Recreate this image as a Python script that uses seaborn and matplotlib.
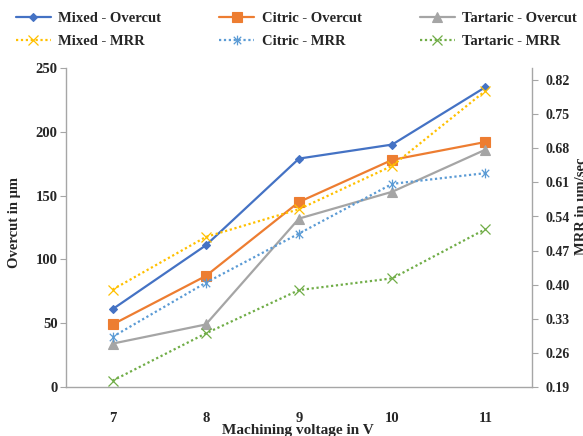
import matplotlib
matplotlib.use("Agg")
import matplotlib.pyplot as plt
from matplotlib.path import Path
import seaborn as sns
import pandas as pd

# Machining voltage (V)
voltage = [7, 8, 9, 10, 11]

# Overcut in micrometres (left axis)
mixed_overcut = [61, 111, 179, 190, 235]
citric_overcut = [49, 87, 145, 178, 192]
tartaric_overcut = [34, 49, 132, 153, 186]

# Material removal rate in um/sec (right axis)
mixed_mrr = [0.39, 0.498, 0.555, 0.644, 0.798]
citric_mrr = [0.293, 0.404, 0.505, 0.607, 0.629]
tartaric_mrr = [0.203, 0.300, 0.389, 0.413, 0.514]

left_ticks = [0, 50, 100, 150, 200, 250]
right_ticks = [0.19, 0.26, 0.33, 0.40, 0.47, 0.54, 0.61, 0.68, 0.75, 0.82]

sns.set_theme(style="white")
plt.rcParams["font.family"] = ["Liberation Serif", "DejaVu Serif"]
plt.rcParams["font.weight"] = "bold"

df = pd.DataFrame({
    "V": voltage,
    "Mixed - Overcut": mixed_overcut,
    "Citric - Overcut": citric_overcut,
    "Tartaric - Overcut": tartaric_overcut,
    "Mixed - MRR": mixed_mrr,
    "Citric - MRR": citric_mrr,
    "Tartaric - MRR": tartaric_mrr,
})

# asterisk marker: an x with a vertical stroke
star = Path([(-1, -1), (1, 1), (-1, 1), (1, -1), (0, -1.3), (0, 1.3)],
            [Path.MOVETO, Path.LINETO, Path.MOVETO, Path.LINETO, Path.MOVETO, Path.LINETO])

W, H = 583, 436
fig = plt.figure(figsize=(W / 100, H / 100), dpi=100)
ax = fig.add_axes([66 / W, 49 / H, (532 - 66) / W, (387 - 68) / H])
ax2 = ax.twinx()

spine_col = "#A6A6A6"

left_series = [
    ("Mixed - Overcut", "#4472C4", "D", 4.5),
    ("Citric - Overcut", "#ED7D31", "s", 7),
    ("Tartaric - Overcut", "#A5A5A5", "^", 7),
]
right_series = [
    ("Mixed - MRR", "#FFC000", "x", 7),
    ("Citric - MRR", "#5B9BD5", star, 7),
    ("Tartaric - MRR", "#70AD47", "x", 7),
]

handles = []
for name, col, mk, ms in left_series:
    sns.lineplot(data=df, x="V", y=name, ax=ax, color=col, marker=mk,
                 markersize=ms, markeredgecolor=col, markeredgewidth=0.8,
                 linewidth=1.6, label=name, legend=False)
    handles.append(ax.lines[-1])
for name, col, mk, ms in right_series:
    sns.lineplot(data=df, x="V", y=name, ax=ax2, color=col, marker=mk,
                 markersize=ms, markeredgecolor=col, markeredgewidth=0.9,
                 linewidth=1.6, linestyle=(0, (1, 1.2)), label=name, legend=False)
    handles.append(ax2.lines[-1])

ax.set_xlim(6.5, 11.5)
ax.set_xticks(voltage)
ax.set_xticklabels([str(v) for v in voltage])
ax.set_ylim(0, 250)
ax.set_yticks(left_ticks)
ax.set_yticklabels([str(t) for t in left_ticks])
ax2.set_ylim(0.19, 0.19 + 0.07 * (387 - 68) / 34.1)
ax2.set_yticks(right_ticks)
ax2.set_yticklabels([f"{t:.2f}" for t in right_ticks])

ax.set_xlabel("")
ax.set_ylabel("")
ax2.set_ylabel("")

for a in (ax, ax2):
    for s in a.spines.values():
        s.set_color(spine_col)
        s.set_linewidth(1.0)
    a.spines["top"].set_visible(False)
    a.grid(False)
ax.spines["right"].set_visible(False)
ax2.spines["left"].set_visible(False)
ax2.spines["bottom"].set_visible(False)

ax.tick_params(axis="y", which="both", left=True, length=4, width=0.8,
               color=spine_col, pad=2, labelsize=10.5)
ax.tick_params(axis="x", bottom=False, pad=12, labelsize=10.5)
ax2.tick_params(axis="y", right=True, length=4, width=0.8,
                color=spine_col, pad=6, labelsize=10)

order = [0, 3, 1, 4, 2, 5]
fig.legend([handles[i] for i in order], [handles[i].get_label() for i in order],
           loc="upper left", bbox_to_anchor=(10 / W, 1 - 6 / H), ncol=3,
           frameon=False, fontsize=10.5, handlelength=2.4, handletextpad=0.5,
           columnspacing=4.0, labelspacing=0.65, borderaxespad=0)

fig.text(298 / W, 1 - 430 / H, "Machining voltage in V", ha="center",
         va="center", fontsize=11, fontweight="bold")
fig.text(15 / W, 1 - 223 / H, "Overcut in \u03bcm", ha="center", va="center",
         rotation=90, fontsize=10.5, fontweight="bold")
fig.text(582 / W, 1 - 206 / H, "MRR in \u03bcm/sec", ha="center", va="center",
         rotation=90, fontsize=10.5, fontweight="bold")

fig.savefig("out.png", dpi=100)
